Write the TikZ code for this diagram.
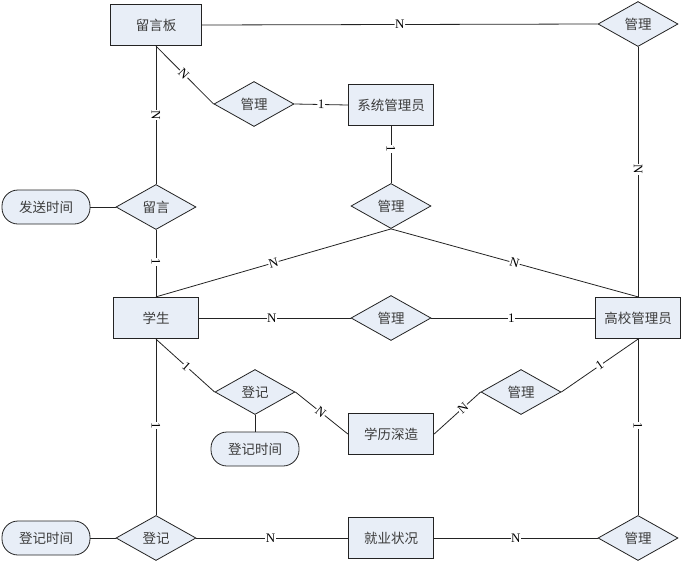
\documentclass[tikz,border=0pt]{standalone}
\usepackage{fontspec}
\setmainfont{Liberation Serif}
\newfontfamily\cjk{Noto Sans CJK SC}
\usetikzlibrary{shapes.geometric}
\definecolor{boxfill}{RGB}{232,238,247}
\definecolor{edgecol}{RGB}{35,35,35}
\definecolor{textcol}{RGB}{60,60,60}
\begin{document}
\begin{tikzpicture}[x=1pt,y=-1pt,
  cjkfont/.style={font=\cjk\fontsize{13.5}{15}\selectfont, text=textcol},
  ent/.style={draw=edgecol, line width=1.3pt, fill=boxfill, minimum width=85pt, minimum height=41pt, inner sep=0pt, cjkfont},
  rel/.style={diamond, draw=edgecol, line width=0.8pt, fill=boxfill, minimum width=80pt, minimum height=45pt, inner sep=0pt, cjkfont},
  attr/.style={draw=edgecol, line width=0.8pt, fill=boxfill, rounded corners=16pt, minimum width=88pt, minimum height=34pt, inner sep=0pt, cjkfont},
  conn/.style={draw=edgecol, line width=0.8pt},
  lbl/.style={fill=white, inner sep=0.6pt, font=\fontsize{13}{13}\selectfont, sloped}
]
\useasboundingbox (0,0) rectangle (685,565);

% entities
\node[ent, minimum width=91pt] (lyb) at (156,25) {留言板};
\node[ent] (xtg) at (391,105) {系统管理员};
\node[ent] (xs)  at (156,318) {学生};
\node[ent] (gxg) at (638,318) {高校管理员};
\node[ent] (xl)  at (391,434) {学历深造};
\node[ent] (jy)  at (391,538) {就业状况};

% relationships
\node[rel] (gl0) at (638,24)  {管理};
\node[rel] (gl1) at (254,104) {管理};
\node[rel] (ly)  at (156,207) {留言};
\node[rel] (gl2) at (391,206) {管理};
\node[rel] (gl3) at (391,318) {管理};
\node[rel] (dj1) at (255,392) {登记};
\node[rel] (gl4) at (521,392) {管理};
\node[rel] (dj2) at (156,538) {登记};
\node[rel] (gl5) at (638,538) {管理};

% attributes
\node[attr] (fs)   at (46,207)  {发送时间};
\node[attr] (djt1) at (255,449) {登记时间};
\node[attr] (djt2) at (46,538)  {登记时间};

% connectors
\path[conn] (lyb.east) -- node[lbl]{N} (gl0.west);
\path[conn] (lyb.south) -- node[lbl, pos=0.48]{N} (gl1.west);
\path[conn] (lyb.south) -- node[lbl]{N} (ly.north);
\path[conn] (ly.south) -- node[lbl, pos=0.48]{1} (xs.north);
\path[conn] (fs.east) -- (ly.west);
\path[conn] (gl1.east) -- node[lbl]{1} (xtg.west);
\path[conn] (xtg.south) -- node[lbl, pos=0.4]{1} (gl2.north);
\path[conn] (gl2.south) -- node[lbl]{N} (xs.north);
\path[conn] (gl2.south) -- node[lbl]{N} (gxg.north);
\path[conn] (xs.east) -- node[lbl, pos=0.48]{N} (gl3.west);
\path[conn] (gl3.east) -- node[lbl, pos=0.49]{1} (gxg.west);
\path[conn] (gl0.south) -- node[lbl, pos=0.49]{N} (gxg.north);
\path[conn] (xs.south) -- node[lbl, pos=0.52]{1} (dj1.west);
\path[conn] (dj1.south) -- (djt1.north);
\path[conn] (dj1.east) -- node[lbl, pos=0.48]{N} (xl.west);
\path[conn] (xl.east) -- node[lbl, pos=0.62]{N} (gl4.west);
\path[conn] (gl4.east) -- node[lbl]{1} (gxg.south);
\path[conn] (xs.south) -- node[lbl, pos=0.49]{1} (dj2.north);
\path[conn] (gxg.south) -- node[lbl, pos=0.49]{1} (gl5.north);
\path[conn] (djt2.east) -- (dj2.west);
\path[conn] (dj2.east) -- node[lbl, pos=0.49]{N} (jy.west);
\path[conn] (jy.east) -- node[lbl]{N} (gl5.west);
\end{tikzpicture}
\end{document}
